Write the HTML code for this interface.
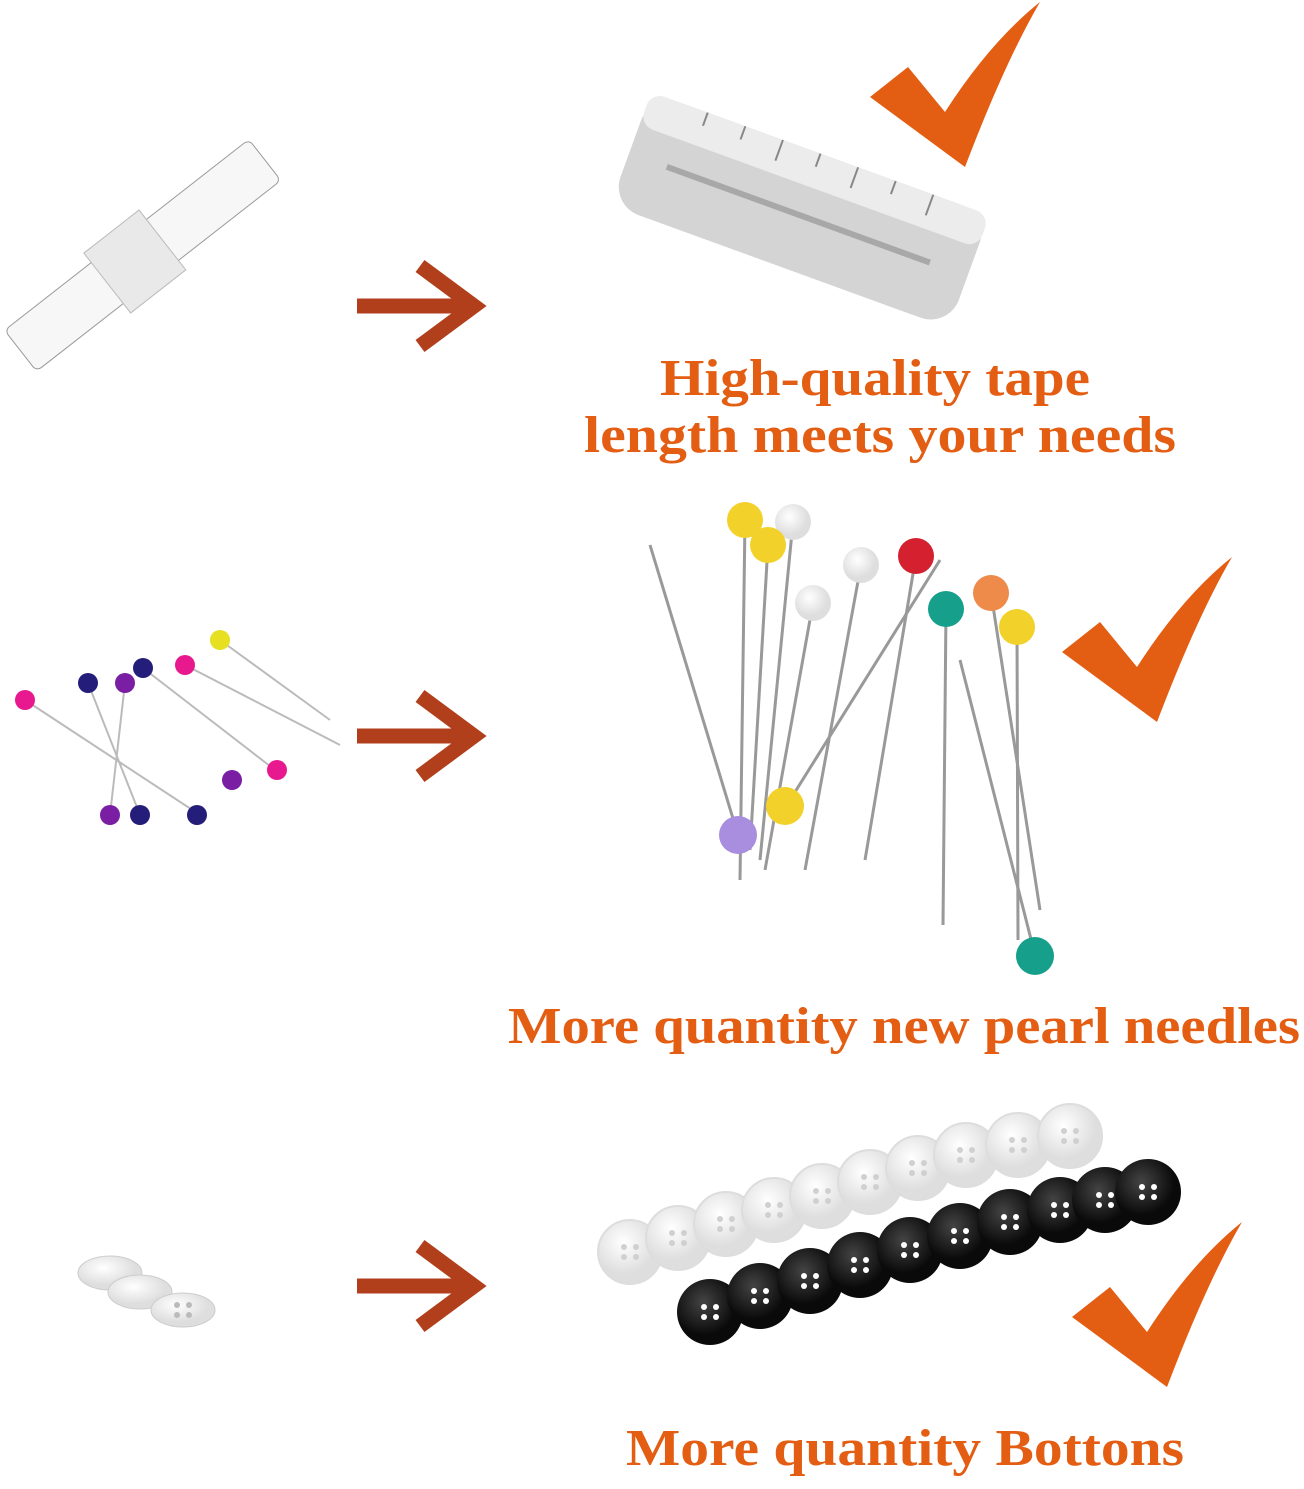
<!DOCTYPE html>
<html><head><meta charset="utf-8"><style>
html,body{margin:0;padding:0;background:#fff;}
svg{display:block}
text{font-family:"Liberation Serif",serif;font-weight:bold;fill:#e35d12;}
</style></head><body>
<svg width="1304" height="1489" viewBox="0 0 1304 1489" xmlns="http://www.w3.org/2000/svg">
<defs>
<g id="arr"><path d="M357 0 H470" stroke="#b23f1c" stroke-width="15" fill="none"/><path d="M420 -40 L474 0 L420 40" stroke="#b23f1c" stroke-width="15" fill="none" stroke-linejoin="miter"/></g>
<path id="chk" d="M0 95 L38 65 L75 110 Q120 40 170 0 Q135 60 95 165 Z" fill="#e35d12"/>
<radialGradient id="wb" cx="40%" cy="35%"><stop offset="0" stop-color="#fff"/><stop offset="1" stop-color="#dedede"/></radialGradient>
<radialGradient id="bb" cx="40%" cy="35%"><stop offset="0" stop-color="#444"/><stop offset="1" stop-color="#0a0a0a"/></radialGradient>
<g id="h"><circle cx="-6" cy="-5" r="3"/><circle cx="6" cy="-5" r="3"/><circle cx="-6" cy="5" r="3"/><circle cx="6" cy="5" r="3"/></g>
</defs>

<use href="#arr" y="306"/><use href="#arr" y="736"/><use href="#arr" y="1286"/>
<use href="#chk" x="870" y="2"/><use href="#chk" x="1062" y="557"/><use href="#chk" x="1072" y="1222"/>

<!-- small tape -->
<g transform="rotate(-38 140 260)">
<rect x="-10" y="232" width="310" height="52" rx="6" fill="#f7f7f7" stroke="#999"/>
<rect x="100" y="220" width="70" height="76" fill="#e9e9e9" stroke="#bbb"/>
</g>
<!-- big tape -->
<g transform="rotate(20 800 210)">
<rect x="620" y="150" width="360" height="120" rx="30" fill="#d4d4d4"/>
<rect x="620" y="150" width="360" height="35" rx="14" fill="#ececec"/>
<path d="M660 215 H940" stroke="#a8a8a8" stroke-width="6"/>
<path d="M680 150 v14 M720 150 v14 M760 150 v22 M800 150 v14 M840 150 v22 M880 150 v14 M920 150 v22" stroke="#888" stroke-width="2"/>
</g>

<!-- small pins -->
<g stroke="#bbb" stroke-width="2">
<line x1="25" y1="700" x2="200" y2="815"/><line x1="88" y1="683" x2="140" y2="815"/><line x1="125" y1="683" x2="110" y2="815"/><line x1="143" y1="668" x2="275" y2="770"/><line x1="185" y1="665" x2="340" y2="745"/><line x1="220" y1="640" x2="330" y2="720"/>
</g>
<g><circle cx="25" cy="700" r="10" fill="#e8198e"/><circle cx="88" cy="683" r="10" fill="#241e7a"/><circle cx="125" cy="683" r="10" fill="#7a1fa3"/><circle cx="143" cy="668" r="10" fill="#241e7a"/><circle cx="185" cy="665" r="10" fill="#e8198e"/><circle cx="220" cy="640" r="10" fill="#e6e020"/><circle cx="232" cy="780" r="10" fill="#7a1fa3"/><circle cx="277" cy="770" r="10" fill="#e8198e"/><circle cx="110" cy="815" r="10" fill="#7a1fa3"/><circle cx="140" cy="815" r="10" fill="#241e7a"/><circle cx="197" cy="815" r="10" fill="#241e7a"/></g>

<!-- big pins -->
<g stroke="#999" stroke-width="3">
<line x1="745" y1="520" x2="740" y2="880"/><line x1="793" y1="522" x2="760" y2="860"/><line x1="768" y1="545" x2="750" y2="850"/><line x1="813" y1="603" x2="765" y2="870"/><line x1="861" y1="565" x2="805" y2="870"/><line x1="916" y1="556" x2="865" y2="860"/><line x1="946" y1="609" x2="943" y2="925"/><line x1="991" y1="593" x2="1040" y2="910"/><line x1="1017" y1="627" x2="1018" y2="940"/><line x1="650" y1="545" x2="738" y2="835"/><line x1="940" y1="560" x2="790" y2="800"/><line x1="960" y1="660" x2="1035" y2="955"/>
</g>
<g><circle cx="745" cy="520" r="18" fill="#f2d12a"/><circle cx="793" cy="522" r="18" fill="url(#wb)"/><circle cx="768" cy="545" r="18" fill="#f2d12a"/><circle cx="861" cy="565" r="18" fill="url(#wb)"/><circle cx="813" cy="603" r="18" fill="url(#wb)"/><circle cx="916" cy="556" r="18" fill="#d4202f"/><circle cx="946" cy="609" r="18" fill="#16a08c"/><circle cx="991" cy="593" r="18" fill="#ee8a4a"/><circle cx="1017" cy="627" r="18" fill="#f2d12a"/><circle cx="785" cy="806" r="19" fill="#f2d12a"/><circle cx="738" cy="835" r="19" fill="#a98ddf"/><circle cx="1035" cy="956" r="19" fill="#16a08c"/></g>

<!-- small buttons -->
<g stroke="#ccc" fill="url(#wb)"><ellipse cx="110" cy="1273" rx="32" ry="17"/><ellipse cx="140" cy="1292" rx="32" ry="17"/><ellipse cx="183" cy="1310" rx="32" ry="17"/></g>
<g fill="#bbb"><use href="#h" x="183" y="1310" transform="scale(1)"/></g>

<!-- big white buttons -->
<g stroke="#ddd" stroke-width="2" fill="url(#wb)">
<circle cx="630" cy="1252" r="32"/><circle cx="678" cy="1238" r="32"/><circle cx="726" cy="1224" r="32"/><circle cx="774" cy="1210" r="32"/><circle cx="822" cy="1196" r="32"/><circle cx="870" cy="1182" r="32"/><circle cx="918" cy="1168" r="32"/><circle cx="966" cy="1155" r="32"/><circle cx="1018" cy="1145" r="32"/><circle cx="1070" cy="1136" r="32"/>
</g>
<g fill="#d0d0d0"><use href="#h" x="630" y="1252"/><use href="#h" x="678" y="1238"/><use href="#h" x="726" y="1224"/><use href="#h" x="774" y="1210"/><use href="#h" x="822" y="1196"/><use href="#h" x="870" y="1182"/><use href="#h" x="918" y="1168"/><use href="#h" x="966" y="1155"/><use href="#h" x="1018" y="1145"/><use href="#h" x="1070" y="1136"/></g>
<g fill="url(#bb)">
<circle cx="710" cy="1312" r="33"/><circle cx="760" cy="1296" r="33"/><circle cx="810" cy="1281" r="33"/><circle cx="860" cy="1265" r="33"/><circle cx="910" cy="1250" r="33"/><circle cx="960" cy="1236" r="33"/><circle cx="1010" cy="1222" r="33"/><circle cx="1060" cy="1210" r="33"/><circle cx="1105" cy="1200" r="33"/><circle cx="1148" cy="1192" r="33"/>
</g>
<g fill="#fff"><use href="#h" x="710" y="1312"/><use href="#h" x="760" y="1296"/><use href="#h" x="810" y="1281"/><use href="#h" x="860" y="1265"/><use href="#h" x="910" y="1250"/><use href="#h" x="960" y="1236"/><use href="#h" x="1010" y="1222"/><use href="#h" x="1060" y="1210"/><use href="#h" x="1105" y="1200"/><use href="#h" x="1148" y="1192"/></g>

<text x="875" y="395" font-size="52" text-anchor="middle" textLength="430" lengthAdjust="spacingAndGlyphs">High-quality tape</text>
<text x="880" y="452" font-size="52" text-anchor="middle" textLength="592" lengthAdjust="spacingAndGlyphs">length meets your needs</text>
<text x="508" y="1043" font-size="52" textLength="792" lengthAdjust="spacingAndGlyphs">More quantity new pearl needles</text>
<text x="626" y="1465" font-size="52" textLength="558" lengthAdjust="spacingAndGlyphs">More quantity Bottons</text>
</svg>
</body></html>
